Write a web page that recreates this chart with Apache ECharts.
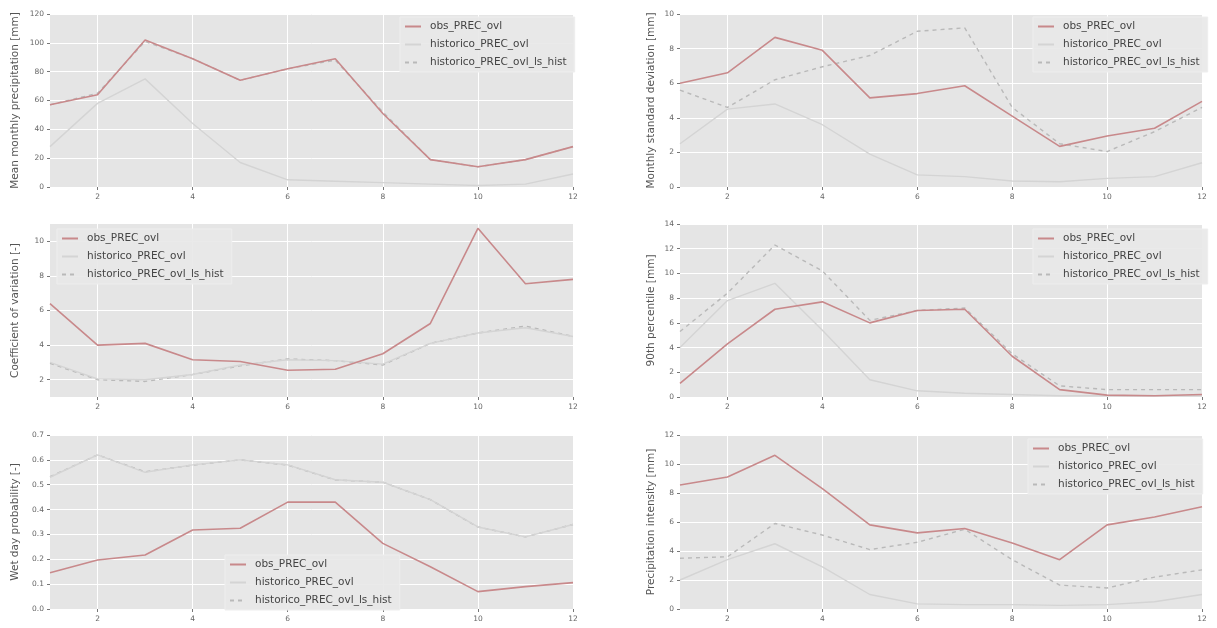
<!DOCTYPE html>
<html>
<head>
<meta charset="utf-8">
<script src="https://cdn.jsdelivr.net/npm/echarts@6/dist/echarts.min.js"></script>
<style>
  html, body { margin: 0; padding: 0; background: #ffffff; }
  #chart { width: 1217px; height: 628px; }
</style>
</head>
<body>
<div id="chart"></div>
<script>
// Months on the x axis
const months = [1, 2, 3, 4, 5, 6, 7, 8, 9, 10, 11, 12];
const monthTicks = [2, 4, 6, 8, 10, 12];
const seriesNames = ['obs_PREC_ovl', 'historico_PREC_ovl', 'historico_PREC_ovl_ls_hist'];

// Mean monthly precipitation [mm]
const meanObs    = [57, 64, 102, 89, 74, 82, 89, 51, 19, 14, 19, 28];
const meanHist   = [28, 58, 75, 44, 17, 5, 4, 3, 2, 1, 2, 9];
const meanHistLs = [57, 65, 101, 89, 74, 82, 88, 52, 19, 14, 19, 28];

// Monthly standard deviation [mm]
const sdObs    = [6.0, 6.6, 8.65, 7.9, 5.15, 5.4, 5.85, 4.1, 2.35, 2.95, 3.4, 4.95];
const sdHist   = [2.5, 4.5, 4.8, 3.6, 1.9, 0.7, 0.6, 0.35, 0.3, 0.5, 0.6, 1.4];
const sdHistLs = [5.6, 4.6, 6.2, 6.95, 7.6, 9.0, 9.2, 4.6, 2.5, 2.05, 3.2, 4.6];

// Coefficient of variation [-]
const cvObs    = [6.4, 4.0, 4.1, 3.15, 3.05, 2.55, 2.6, 3.5, 5.25, 10.75, 7.55, 7.8];
const cvHist   = [3.0, 2.05, 2.0, 2.3, 2.85, 3.15, 3.1, 2.9, 4.1, 4.7, 5.0, 4.5];
const cvHistLs = [2.95, 2.0, 1.9, 2.3, 2.8, 3.2, 3.1, 2.85, 4.1, 4.7, 5.1, 4.5];

// 90th percentile [mm]
const p90Obs    = [1.1, 4.3, 7.1, 7.7, 6.0, 7.0, 7.1, 3.3, 0.6, 0.15, 0.1, 0.2];
const p90Hist   = [4.0, 7.8, 9.2, 5.4, 1.4, 0.5, 0.3, 0.2, 0.1, 0.1, 0.1, 0.1];
const p90HistLs = [5.3, 8.4, 12.3, 10.2, 6.2, 7.0, 7.2, 3.5, 0.9, 0.6, 0.6, 0.6];

// Wet day probability [-]
const wetObs    = [0.146, 0.197, 0.217, 0.318, 0.325, 0.43, 0.43, 0.264, 0.17, 0.07, 0.09, 0.106];
const wetHist   = [0.53, 0.62, 0.55, 0.58, 0.60, 0.58, 0.52, 0.51, 0.44, 0.33, 0.29, 0.34];
const wetHistLs = [0.532, 0.62, 0.552, 0.579, 0.60, 0.579, 0.519, 0.51, 0.44, 0.33, 0.29, 0.34];

// Precipitation intensity [mm]
const intObs    = [8.55, 9.1, 10.6, 8.3, 5.8, 5.25, 5.55, 4.55, 3.4, 5.8, 6.35, 7.05];
const intHist   = [2.0, 3.4, 4.5, 2.9, 1.0, 0.35, 0.3, 0.3, 0.25, 0.3, 0.5, 1.0];
const intHistLs = [3.5, 3.6, 5.9, 5.1, 4.1, 4.6, 5.5, 3.4, 1.65, 1.45, 2.2, 2.7];

// Panel definitions: data, y range, tick values and axis title
const panels = [
  { data: [meanObs, meanHist, meanHistLs], min: 0, max: 120, ticks: [0, 20, 40, 60, 80, 100, 120], digits: 0,
    name: 'Mean monthly precipitation [mm]', legend: { left: 400, top: 17 } },
  { data: [sdObs, sdHist, sdHistLs], min: 0, max: 10, ticks: [0, 2, 4, 6, 8, 10], digits: 0,
    name: 'Monthly standard deviation [mm]', legend: { left: 1033, top: 17 } },
  { data: [cvObs, cvHist, cvHistLs], min: 1, max: 11, ticks: [2, 4, 6, 8, 10], digits: 0,
    name: 'Coefficient of variation [-]', legend: { left: 57, top: 229 } },
  { data: [p90Obs, p90Hist, p90HistLs], min: 0, max: 14, ticks: [0, 2, 4, 6, 8, 10, 12, 14], digits: 0,
    name: '90th percentile [mm]', legend: { left: 1033, top: 229 } },
  { data: [wetObs, wetHist, wetHistLs], min: 0, max: 0.7, ticks: [0, 0.1, 0.2, 0.3, 0.4, 0.5, 0.6, 0.7], digits: 1,
    name: 'Wet day probability [-]', legend: { left: 225, top: 555 } },
  { data: [intObs, intHist, intHistLs], min: 0, max: 12, ticks: [0, 2, 4, 6, 8, 10, 12], digits: 0,
    name: 'Precipitation intensity [mm]', legend: { left: 1028, top: 439 } }
];

// Plot area boxes (left column / right column, three rows)
const gridBoxes = [
  { left: 50,  top: 14,  width: 523, height: 173 },
  { left: 680, top: 14,  width: 522, height: 173 },
  { left: 50,  top: 224, width: 523, height: 173 },
  { left: 680, top: 224, width: 522, height: 173 },
  { left: 50,  top: 435, width: 523, height: 174 },
  { left: 680, top: 435, width: 522, height: 174 }
];

const lineStyles = [
  { color: '#c8898b', width: 1.6, type: 'solid' },
  { color: '#d4d4d4', width: 1.4, type: 'solid' },
  { color: '#b9b9b9', width: 1.4, type: [4, 4] }
];

const tickColor = '#777';
const labelColor = '#666';
const font = 'DejaVu Sans';

const grid = [], xAxis = [], yAxis = [], series = [], legend = [];

panels.forEach((p, i) => {
  const isLeft = i % 2 === 0;
  grid.push(Object.assign({ show: true, backgroundColor: '#e5e5e5', borderWidth: 0, containLabel: false }, gridBoxes[i]));

  xAxis.push({
    type: 'value', gridIndex: i, min: 1, max: 12,
    axisLine: { show: false },
    axisTick: { show: true, length: 3, customValues: monthTicks, lineStyle: { color: tickColor } },
    axisLabel: { customValues: monthTicks, color: labelColor, fontSize: 7.5, fontFamily: font, margin: 6 },
    splitLine: { show: true, lineStyle: { color: '#ffffff', width: 1 } }
  });

  yAxis.push({
    type: 'value', gridIndex: i, min: p.min, max: p.max,
    name: p.name, nameLocation: 'middle', nameGap: isLeft ? 29 : 23,
    nameTextStyle: { color: '#555', fontSize: 10.5, fontFamily: font },
    axisLine: { show: false },
    axisTick: { show: true, length: 3, customValues: p.ticks, lineStyle: { color: tickColor } },
    axisLabel: { customValues: p.ticks, color: labelColor, fontSize: 7.5, fontFamily: font, margin: 6,
      formatter: v => v.toFixed(p.digits) },
    splitLine: { show: true, lineStyle: { color: '#ffffff', width: 1 } }
  });

  p.data.forEach((vals, k) => {
    series.push({
      type: 'line', name: seriesNames[k], xAxisIndex: i, yAxisIndex: i,
      data: months.map((m, j) => [m, vals[j]]),
      symbol: 'none', silent: true, animation: false,
      lineStyle: lineStyles[k], itemStyle: { color: lineStyles[k].color },
      z: 3 - k
    });
  });

  legend.push({
    left: p.legend.left, top: p.legend.top, orient: 'vertical',
    data: seriesNames,
    itemWidth: 16, itemHeight: 10, itemGap: 7,
    itemStyle: { opacity: 0 },
    backgroundColor: 'rgba(232,232,232,0.9)', borderColor: '#eeeeee', borderWidth: 1,
    padding: [4, 8, 4, 4],
    textStyle: { color: '#444', fontSize: 10.5, fontFamily: font, padding: [0, 0, 0, 4] },
    selectedMode: false
  });
});

const chart = echarts.init(document.getElementById('chart'), null, { renderer: 'canvas' });
chart.setOption({ animation: false, backgroundColor: '#ffffff', grid, xAxis, yAxis, series, legend });
</script>
</body>
</html>
